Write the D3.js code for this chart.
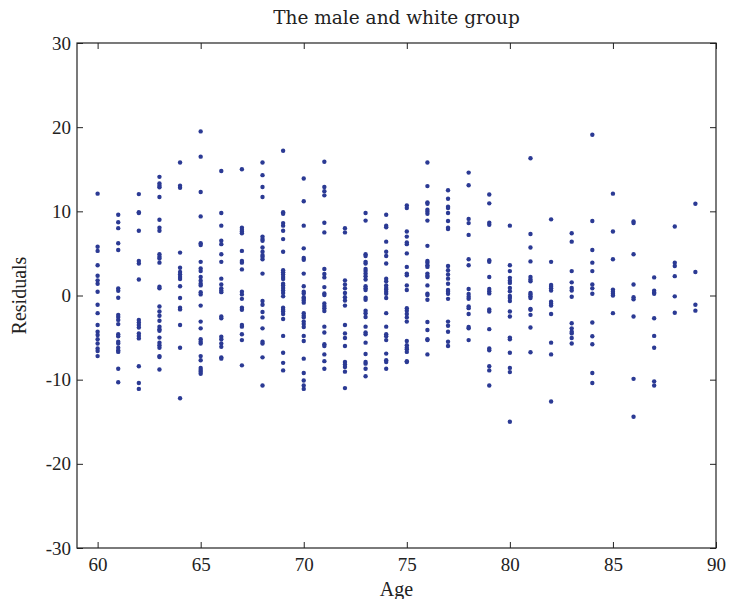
<!DOCTYPE html>
<html>
<head>
<meta charset="utf-8">
<script src="https://cdn.jsdelivr.net/npm/d3@7"></script>
<style>
  body { margin: 0; background: #fff; }
  svg text { font-family: "Liberation Serif", "DejaVu Serif", serif; fill: #222; }
</style>
</head>
<body>
<script>
// residual values, one list per age
const ages = [60, 61, 62, 63, 64, 65, 66, 67, 68, 69, 70, 71, 72, 73, 74,
              75, 76, 77, 78, 79, 80, 81, 82, 83, 84, 85, 86, 87, 88, 89];
const residuals = [
  [12.1, 5.8, 5.3, 3.6, 2.35, 1.8, 1.4, 0.45, -1.1, -2.1, -3.5, -4.3, -4.7, -5.2, -5.7, -6.3, -6.6, -7.2],
  [9.6, 8.7, 8.0, 6.2, 5.4, 0.85, 0.57, -0.26, -2.3, -2.56, -2.9, -3.4, -4.6, -4.85, -5.5, -5.7, -6.2, -6.5, -6.7, -8.7, -10.3],
  [12.05, 9.9, 9.8, 7.7, 4.1, 3.8, 1.9, -2.9, -3.2, -3.5, -3.8, -4.5, -4.8, -5.1, -8.4, -10.4, -11.1],
  [14.1, 13.3, 13.05, 12.85, 11.7, 9.0, 8.05, 7.7, 4.9, 4.6, 4.4, 3.9, 1.05, 0.85, -1.3, -1.9, -2.4, -3.0, -3.7, -4.0, -4.2, -5.0, -5.6, -5.9, -6.2, -7.2, -7.3, -8.8],
  [15.8, 13.05, 12.8, 5.1, 3.3, 2.8, 2.5, 2.2, 1.96, 1.1, -0.3, -1.45, -1.65, -3.5, -6.2, -12.2],
  [19.5, 16.5, 12.3, 9.4, 6.2, 6.0, 4.0, 3.2, 2.9, 2.2, 1.76, 1.4, 1.2, 0.4, 0.13, -1.2, -3.1, -3.9, -5.2, -5.5, -5.7, -7.2, -7.7, -8.6, -8.85, -9.05, -9.3],
  [14.8, 9.8, 8.3, 6.5, 6.1, 4.9, 4.0, 2.0, 1.3, 0.85, 0.6, 0.4, -2.5, -2.7, -4.9, -5.2, -5.7, -6.1, -7.35, -7.5],
  [15.0, 8.05, 7.8, 7.6, 7.4, 5.3, 4.1, 3.9, 3.1, 0.45, 0.13, -0.4, -1.45, -1.7, -3.5, -3.7, -4.6, -5.3, -8.3],
  [15.8, 14.3, 12.9, 11.7, 7.0, 6.7, 6.5, 5.7, 5.2, 4.8, 4.6, 4.3, 2.6, -0.65, -1.1, -1.96, -2.6, -3.9, -5.5, -5.7, -7.35, -10.7],
  [17.2, 9.9, 9.7, 8.6, 8.3, 7.7, 6.7, 5.2, 3.0, 2.75, 2.5, 2.2, 1.96, 1.4, 1.2, 0.9, 0.6, 0.3, -0.1, -1.45, -1.7, -1.9, -2.2, -2.8, -4.8, -6.8, -8.0, -8.9],
  [13.9, 11.2, 8.3, 5.6, 4.45, 4.25, 2.6, 1.1, 0.45, 0.25, -0.2, -0.4, -0.6, -0.85, -2.1, -2.4, -2.6, -3.1, -3.4, -3.75, -4.8, -5.4, -7.5, -9.2, -10.1, -10.7, -11.1],
  [15.9, 12.9, 12.4, 11.9, 8.65, 7.5, 3.15, 2.55, 2.15, 1.0, 0.25, 0.05, -0.95, -1.25, -1.5, -1.85, -3.7, -4.4, -5.8, -6.0, -7.0, -7.8, -8.7],
  [8.0, 7.5, 1.8, 1.3, 0.85, 0.3, -0.2, -0.6, -1.2, -3.5, -4.5, -5.05, -6.0, -7.9, -8.2, -8.5, -9.05, -11.0],
  [9.8, 8.9, 4.9, 4.7, 4.0, 3.8, 3.15, 2.9, 2.6, 2.3, 1.9, 1.1, 0.85, 0.65, -0.26, -0.5, -1.8, -2.1, -2.56, -3.7, -4.4, -4.6, -5.6, -6.95, -7.9, -8.1, -8.7, -9.6],
  [9.6, 8.3, 8.1, 6.4, 5.2, 4.7, 3.8, 2.0, 1.7, 1.2, 0.9, 0.7, 0.45, 0.2, -0.3, -2.1, -3.7, -4.6, -4.85, -5.3, -6.9, -7.7, -7.9, -8.7],
  [10.7, 10.4, 7.6, 7.0, 6.3, 6.1, 5.0, 3.4, 2.6, 2.4, 1.2, 0.65, -1.5, -1.8, -2.2, -2.6, -3.1, -5.4, -5.9, -6.2, -6.4, -6.7, -7.8, -7.9],
  [15.8, 13.0, 11.07, 10.9, 10.2, 9.96, 9.7, 8.9, 5.9, 4.1, 3.9, 3.6, 3.4, 2.6, 2.35, 2.2, 1.2, 0.2, 0.05, -0.5, -3.15, -4.1, -5.2, -5.3, -7.0],
  [12.5, 11.5, 10.55, 10.4, 9.8, 8.85, 8.05, 7.9, 3.5, 3.0, 2.5, 2.0, 1.4, 0.65, 0.45, 0.2, -0.4, -3.1, -3.6, -4.3, -5.5, -6.0],
  [14.6, 13.1, 9.1, 8.6, 7.2, 4.3, 3.6, 0.77, 0.17, -0.14, -0.4, -1.3, -1.5, -2.2, -3.75, -3.9, -5.3],
  [12.0, 10.95, 8.65, 8.4, 4.2, 4.0, 2.2, 0.77, 0.5, 0.25, -1.65, -1.9, -4.0, -6.3, -6.5, -8.4, -8.9, -10.7],
  [8.3, 3.6, 2.9, 2.1, 1.76, 1.5, 0.9, 0.5, -0.06, -0.3, -0.66, -1.9, -2.5, -5.0, -5.2, -6.8, -8.6, -9.1, -15.0],
  [16.3, 7.3, 5.7, 4.05, 2.2, 1.9, 1.7, 0.3, 0.13, -0.1, -0.3, -1.6, -1.7, -2.3, -3.8, -6.75],
  [9.05, 4.0, 1.25, 1.05, 0.85, 0.6, -0.74, -0.97, -1.2, -2.2, -5.6, -7.0, -12.6],
  [7.4, 6.4, 2.9, 1.56, 0.9, 0.6, -0.14, -3.3, -3.9, -4.3, -4.5, -5.05, -5.7],
  [19.1, 8.85, 5.4, 3.9, 2.9, 1.3, 0.85, 0.2, -3.2, -4.85, -5.8, -9.2, -10.4],
  [12.1, 7.6, 4.3, 0.7, 0.45, 0.2, 0.0, -2.1],
  [8.8, 8.6, 4.9, 1.3, -0.2, -0.46, -2.5, -9.9, -14.4],
  [2.15, 0.57, 0.37, 0.2, -2.7, -4.8, -6.2, -10.2, -10.7],
  [8.2, 3.9, 3.5, 2.3, -0.1, -2.05],
  [10.9, 2.8, -1.1, -1.8]
];
const xTicks = [60, 65, 70, 75, 80, 85, 90];
const yTicks = [-30, -20, -10, 0, 10, 20, 30];

const width = 729, height = 599;
const margin = {top: 43, right: 13, bottom: 51, left: 77};

const svg = d3.select("body").append("svg")
  .attr("width", width)
  .attr("height", height);

const x = d3.scaleLinear().domain([59, 90]).range([margin.left, width - margin.right]);
const y = d3.scaleLinear().domain([-30, 30]).range([height - margin.bottom, margin.top]);

const points = [];
ages.forEach((a, i) => residuals[i].forEach(r => points.push({age: a, r: r})));

// plain hyphen for negatives, like the original
const fmt = d => String(d);

// axes box with inward ticks on all four sides
const tickLen = 6;
svg.append("g")
  .attr("transform", `translate(0,${y(-30)})`)
  .call(d3.axisBottom(x).tickValues(xTicks).tickFormat(fmt).tickSizeInner(-tickLen).tickSizeOuter(0).tickPadding(10))
  .call(g => g.select(".domain").remove())
  .call(g => g.selectAll("text").attr("font-size", 19).attr("fill", "#222"));
svg.append("g")
  .attr("transform", `translate(0,${y(30)})`)
  .call(d3.axisTop(x).tickValues(xTicks).tickSizeInner(-tickLen).tickSizeOuter(0).tickFormat(""))
  .call(g => g.select(".domain").remove());
svg.append("g")
  .attr("transform", `translate(${x(59)},0)`)
  .call(d3.axisLeft(y).tickValues(yTicks).tickFormat(fmt).tickSizeInner(-tickLen).tickSizeOuter(0).tickPadding(6))
  .call(g => g.select(".domain").remove())
  .call(g => g.selectAll("text").attr("font-size", 19).attr("fill", "#222"));
svg.append("g")
  .attr("transform", `translate(${x(90)},0)`)
  .call(d3.axisRight(y).tickValues(yTicks).tickSizeInner(-tickLen).tickSizeOuter(0).tickFormat(""))
  .call(g => g.select(".domain").remove());

svg.selectAll(".tick line").attr("stroke", "#222");

svg.append("rect")
  .attr("x", x(59)).attr("y", y(30))
  .attr("width", x(90) - x(59)).attr("height", y(-30) - y(30))
  .attr("fill", "none").attr("stroke", "#222").attr("stroke-width", 1.2);

svg.append("g")
  .selectAll("circle")
  .data(points)
  .enter().append("circle")
  .attr("cx", d => x(d.age))
  .attr("cy", d => y(d.r))
  .attr("r", 2.2)
  .attr("fill", "#2b3a94");

svg.append("text")
  .attr("x", (x(59) + x(90)) / 2).attr("y", 24)
  .attr("text-anchor", "middle").attr("font-size", 18.5)
  .style("font-family", "'DejaVu Serif', serif")
  .text("The male and white group");

svg.append("text")
  .attr("x", (x(59) + x(90)) / 2).attr("y", 596)
  .attr("text-anchor", "middle").attr("font-size", 20)
  .text("Age");

svg.append("text")
  .attr("transform", `translate(26,${(y(30) + y(-30)) / 2}) rotate(-90)`)
  .attr("text-anchor", "middle").attr("font-size", 20)
  .text("Residuals");
</script>
</body>
</html>
